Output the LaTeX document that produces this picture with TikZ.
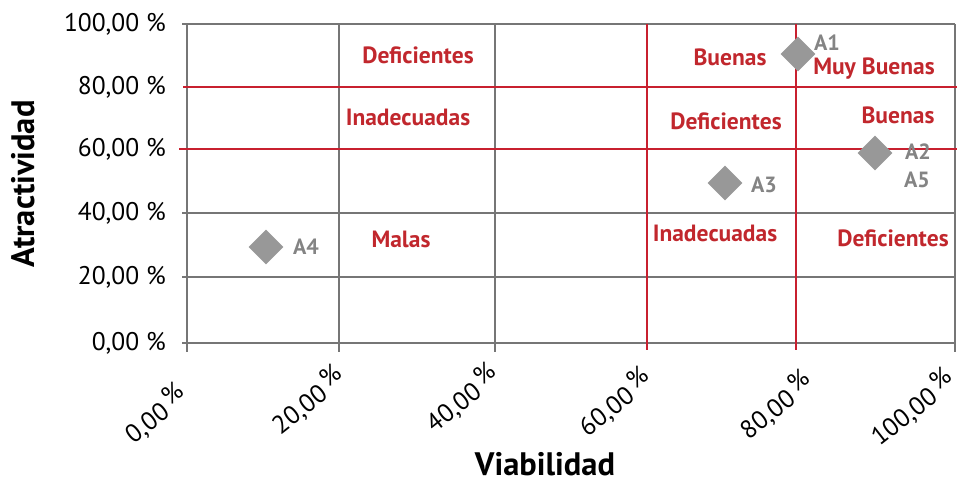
\documentclass[tikz,border=0pt]{standalone}
\usepackage{fontspec}
\setmainfont{PT Sans}
\usetikzlibrary{shapes.geometric}
\definecolor{gridgray}{RGB}{118,118,118}
\definecolor{gridred}{RGB}{200,32,47}
\definecolor{labred}{RGB}{193,39,45}
\definecolor{markgray}{RGB}{152,152,152}
\definecolor{textgray}{RGB}{132,132,132}
\tikzset{
  grayline/.style={draw=gridgray, line width=2pt},
  redline/.style={draw=gridred, line width=2pt},
  zone/.style={text=labred, font=\fontsize{23.5}{26}\selectfont\bfseries, inner sep=0pt},
  ptmark/.style={diamond, aspect=1, fill=markgray, minimum size=35pt, inner sep=0pt},
  ptlab/.style={text=textgray, font=\fontsize{22}{24}\selectfont\bfseries, inner sep=0pt},
  ytick/.style={anchor=east, font=\fontsize{25.5}{28}\selectfont, inner sep=0pt},
  xtick/.style={anchor=north east, rotate=38, font=\fontsize{25.5}{28}\selectfont, inner sep=0pt},
  axtitle/.style={font=\fontsize{32.5}{34}\selectfont\bfseries, inner sep=0pt}
}
\begin{document}
\begin{tikzpicture}[x=1pt,y=-1pt]
\useasboundingbox (0,0) rectangle (957,478);
% gray grid
\foreach \x in {187,339,495,955} \draw[grayline] (\x,24) -- (\x,352);
\foreach \y in {24,213,277,343} \draw[grayline] (182,\y) -- (955,\y);
% red lines
\foreach \x in {647,796} \draw[redline] (\x,24) -- (\x,350);
\draw[redline] (183,87) -- (957,87);
\draw[redline] (179,149) -- (957,149);
% y ticks
\node[ytick] (y0) at (166,343) {0,00 \%};
\node[ytick] (y20) at (166,277) {20,00 \%};
\node[ytick] (y40) at (166,213) {40,00 \%};
\node[ytick] (y60) at (166,149) {60,00 \%};
\node[ytick] (y80) at (166,87) {80,00 \%};
\node[ytick] (y100) at (166,24) {100,00 \%};
% x ticks
\node[xtick] (x0) at (174,380) {0,00\,\raisebox{0.3em}{\%}};
\node[xtick] (x20) at (332,362) {20,00\,\raisebox{0.3em}{\%}};
\node[xtick] (x40) at (486,360) {40,00\,\raisebox{0.3em}{\%}};
\node[xtick] (x60) at (639,364) {60,00\,\raisebox{0.3em}{\%}};
\node[xtick] (x80) at (800,367) {80,00\,\raisebox{0.3em}{\%}};
\node[xtick] (x100) at (942,365) {100,00\,\raisebox{0.3em}{\%}};
% axis titles
\node[axtitle, rotate=90] (ytitle) at (23,184) {Atractividad};
\node[axtitle] (xtitle) at (545,464) {Viabilidad};
% zone labels
\node[zone] (z1) at (418,55) {Deficientes};
\node[zone] (z2) at (408,117) {Inadecuadas};
\node[zone] (z3) at (401,239) {Malas};
\node[zone] (z4) at (730,57) {Buenas};
\node[zone] (z5) at (874,69) {Muy Buenas};
\node[zone] (z6) at (726,121) {Deficientes};
\node[zone] (z7) at (898,115) {Buenas};
\node[zone] (z8) at (715,233) {Inadecuadas};
\node[zone] (z9) at (893,238) {Deficientes};
% points
\node[ptmark] (a1) at (798,54) {};
\node[ptmark] (a2) at (875,153) {};
\node[ptmark] (a3) at (725,183) {};
\node[ptmark] (a4) at (266,247) {};
\node[ptlab] (la1) at (827,43) {A1};
\node[ptlab] (la2) at (918,152) {A2};
\node[ptlab] (la5) at (917,180) {A5};
\node[ptlab] (la3) at (764,185) {A3};
\node[ptlab] (la4) at (306,247) {A4};
\end{tikzpicture}
\end{document}
